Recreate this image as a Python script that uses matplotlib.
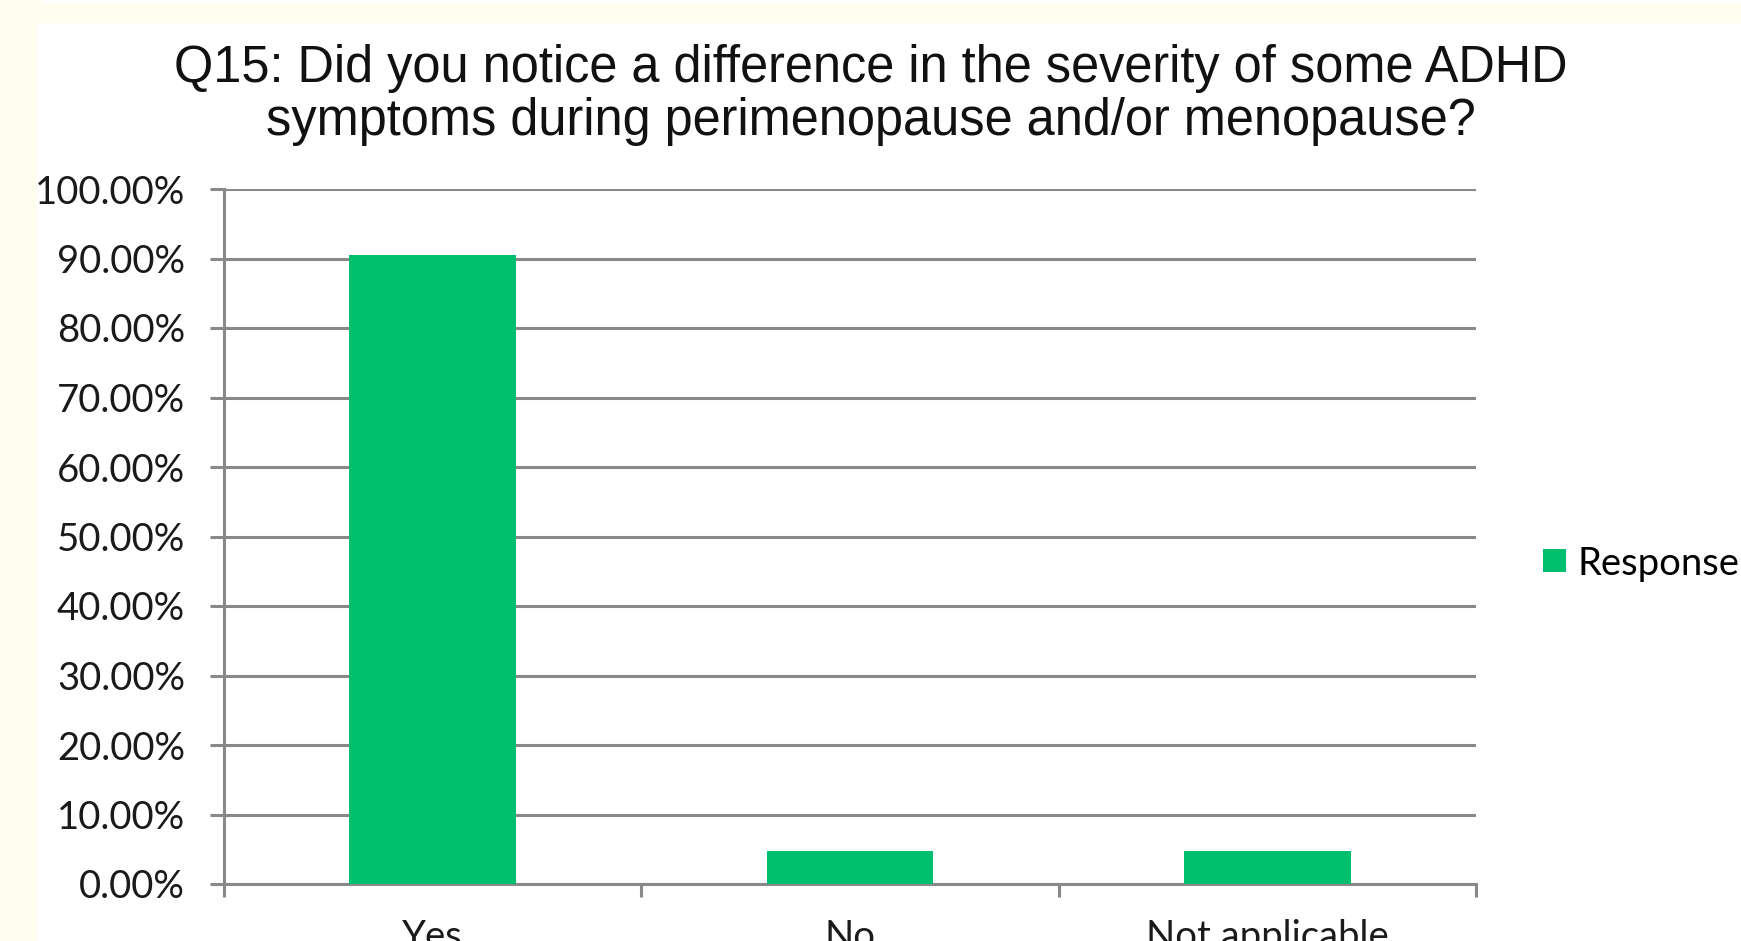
import matplotlib
matplotlib.use("Agg")
from matplotlib import pyplot as plt
from matplotlib.patches import Rectangle
from matplotlib.ticker import PercentFormatter

# survey answers (share of respondents)
categories = ["Yes", "No", "Not applicable"]
responses = [0.9048, 0.0476, 0.0476]
series_name = "Response"
title = ("Q15: Did you notice a difference in the severity of some ADHD\n"
         "symptoms during perimenopause and/or menopause?")

W, H = 1741, 941
green = "#00BF6F"
grey = "#898989"
fs = 27.5

fig = plt.figure(figsize=(W / 100, H / 100), dpi=100)
fig.patch.set_facecolor("#FFFDF0")
# white chart panel
fig.patches.append(Rectangle((37 / W, 0), 1, 1 - 23 / H, transform=fig.transFigure,
                             facecolor="white", edgecolor="none", zorder=-5))
fig.patches.append(Rectangle((43 / W, 1 - 3 / H), 1, 3 / H, transform=fig.transFigure,
                             facecolor="white", edgecolor="none", zorder=-5))

ax = fig.add_axes([224 / W, 1 - 884 / H, (1476 - 224) / W, (884 - 189) / H])
ax.set_zorder(2)
ax.set_facecolor("white")

x = range(len(categories))
ax.bar(x, responses, width=0.4, color=green, zorder=3, label=series_name)

ax.set_xlim(-0.5, len(categories) - 0.5)
ax.set_ylim(0, 1)
ax.set_yticks([i / 10 for i in range(11)])
ax.yaxis.set_major_formatter(PercentFormatter(1.0, decimals=2))
ax.grid(axis="y", color=grey, linewidth=2.2, zorder=1)
ax.set_axisbelow(True)

ax.set_xticks([i + 0.5 for i in range(-1, len(categories))])
ax.set_xticklabels([])
ax.set_xticks(list(x), minor=True)
ax.set_xticklabels(categories, minor=True)
ax.tick_params(axis="x", which="minor", length=0, pad=25)
ax.tick_params(axis="x", which="major", length=9, width=2.2, color=grey)
ax.tick_params(axis="y", length=10, width=2.2, color=grey, pad=18)

for lab in ax.get_yticklabels() + ax.get_xticklabels(minor=True):
    lab.set_fontfamily("Lato")
    lab.set_fontsize(fs)
    lab.set_color("#1a1a1a")

for s in ["top", "right"]:
    ax.spines[s].set_visible(False)
for s in ["left", "bottom"]:
    ax.spines[s].set_color(grey)
    ax.spines[s].set_linewidth(2.2)

fig.text(0.5, 1 - 95 / H, title, ha="center", va="center", fontsize=36.4,
         family="Liberation Sans", linespacing=1.12, color="#111111")

fig.legend(loc="center left", bbox_to_anchor=(1543 / W, 1 - 563.5 / H),
           bbox_transform=fig.transFigure, frameon=False, borderpad=0,
           borderaxespad=0, handlelength=0.6, handleheight=0.55,
           handletextpad=0.3, prop={"family": "Lato", "size": fs})

fig.savefig("out.png", dpi=100, facecolor=fig.get_facecolor())
